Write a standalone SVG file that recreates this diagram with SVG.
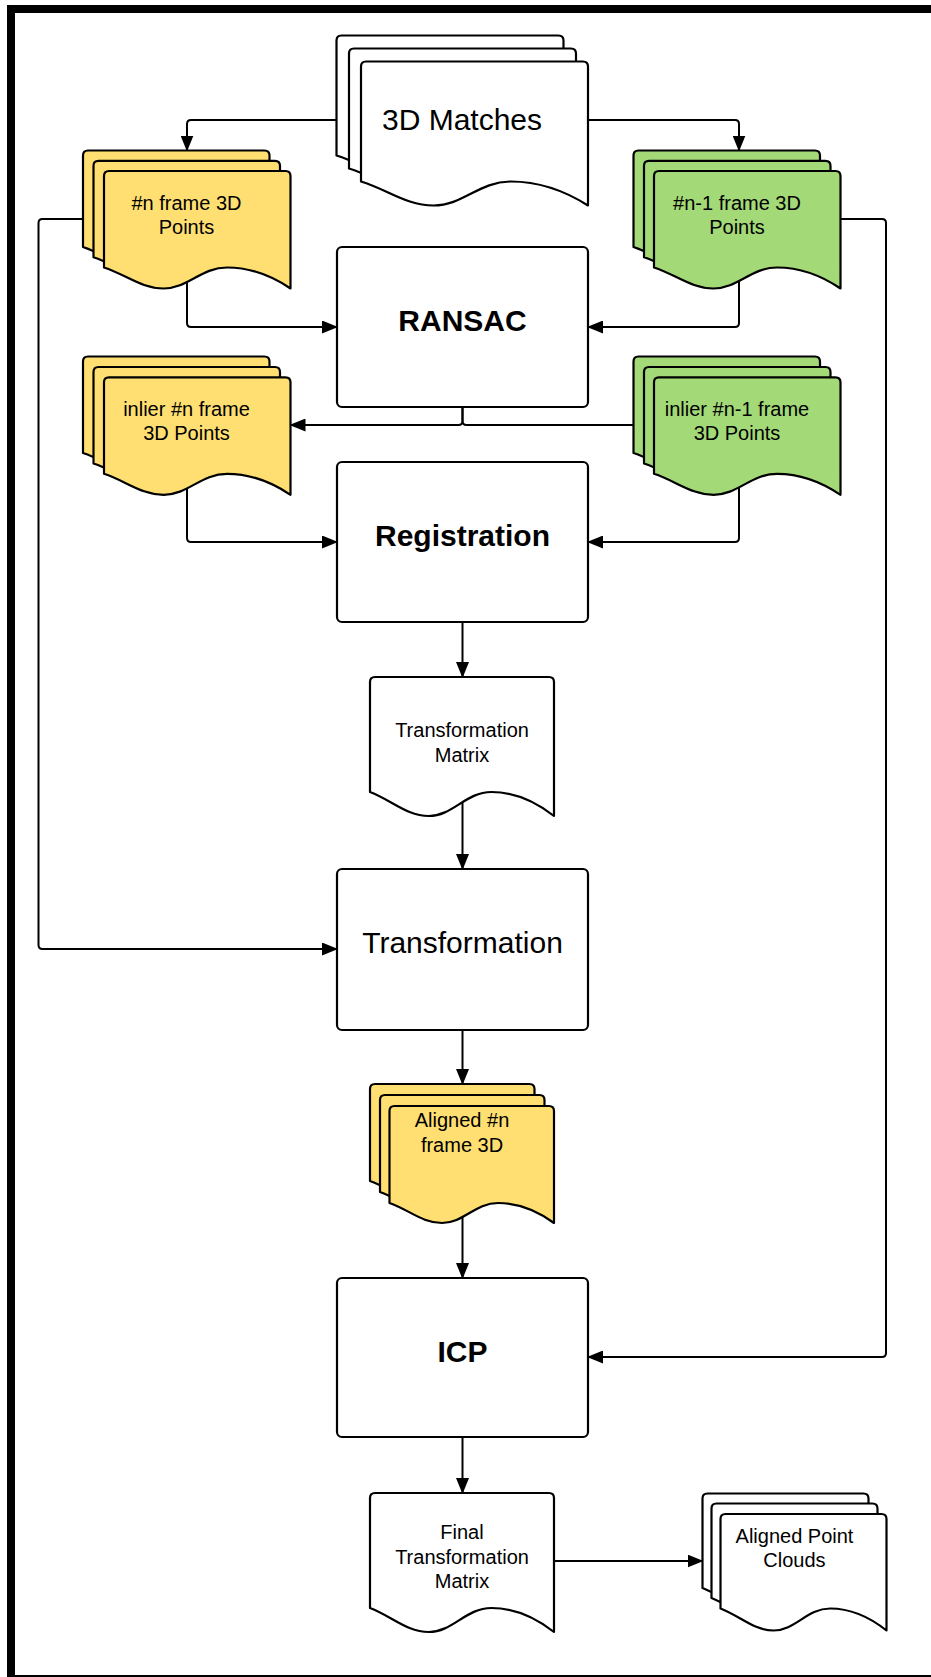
<svg xmlns="http://www.w3.org/2000/svg" xmlns:xlink="http://www.w3.org/1999/xlink" width="931" height="1677" viewBox="0 0 931 1677">
<style>
.sheet{stroke:#000;stroke-width:2.2;stroke-linejoin:round}
.white{fill:#fff}
.yellow{fill:#FFDF71}
.green{fill:#A3D977}
.box{fill:#fff;stroke:#000;stroke-width:2.2}
.conn{fill:none;stroke:#000;stroke-width:2}
.arr{marker-end:url(#ah)}
text{font-family:"Liberation Sans",Arial,sans-serif;fill:#000;text-anchor:middle}
.t20{font-size:20px}
.t30{font-size:30px}
.b30{font-size:30px;font-weight:bold}
</style>
<defs>
<marker id="ah" markerUnits="userSpaceOnUse" markerWidth="16" markerHeight="13" refX="15" refY="6.5" orient="auto">
<path d="M0,0 L16,6.5 L0,13 Z" fill="#000"/>
</marker>
<path id="docA" d="M0,5 Q0,0 5,0 H222 Q227,0 227,5 V144 C204.3,129.6 177.06,120 149.82,120 C118.04,120 102.15,144 72.64,144 C45.4,144 27.24,128.4 0,120 Z"/>
<path id="docB" d="M0,5 Q0,0 5,0 H181.5 Q186.5,0 186.5,5 V117.5 C167.85,104.9 145.47,96.5 123.09,96.5 C96.98,96.5 83.93,117.5 59.68,117.5 C37.3,117.5 22.38,103.85 0,96.5 Z"/>
<path id="docC" d="M0,5 Q0,0 5,0 H159.5 Q164.5,0 164.5,5 V117 C148.05,105 128.31,97 108.57,97 C85.54,97 74.03,117 52.64,117 C32.9,117 19.74,104 0,97 Z"/>
<path id="docD" d="M0,5 Q0,0 5,0 H161 Q166,0 166,5 V116.5 C149.4,103.3 129.48,94.5 109.56,94.5 C86.32,94.5 74.7,116.5 53.12,116.5 C33.2,116.5 19.92,102.2 0,94.5 Z"/>
<path id="docE" d="M0,5 Q0,0 5,0 H179 Q184,0 184,5 V139 C165.6,124.6 143.52,115 121.44,115 C95.68,115 82.8,139 58.88,139 C36.8,139 22.08,123.4 0,115 Z"/>
</defs>
<rect x="0" y="0" width="931" height="1677" fill="#fff"/>
<rect id="frame" x="11" y="9" width="930" height="1670" fill="none" stroke="#000" stroke-width="8"/>

<g id="connectors">
<path class="conn arr" d="M345,120 H191 Q187,120 187,124 V150.5"/>
<path class="conn arr" d="M580,120 H735 Q739,120 739,124 V150.5"/>
<path class="conn arr" d="M187,275 V323 Q187,327 191,327 H337"/>
<path class="conn arr" d="M739,275 V323 Q739,327 735,327 H588"/>
<path class="conn arr" d="M90,219 H42.5 Q38.5,219 38.5,223 V945 Q38.5,949 42.5,949 H337"/>
<path class="conn arr" d="M832,219 H882 Q886,219 886,223 V1353 Q886,1357 882,1357 H588"/>
<path class="conn arr" d="M462.5,400 V421 Q462.5,425 458.5,425 H290.5"/>
<path class="conn arr" d="M462.5,400 V421 Q462.5,425 466.5,425 H654"/>
<path class="conn arr" d="M187,480 V538 Q187,542 191,542 H337"/>
<path class="conn arr" d="M739,480 V538 Q739,542 735,542 H588"/>
<path class="conn arr" d="M462.5,615 V677"/>
<path class="conn arr" d="M462.5,795 V869"/>
<path class="conn arr" d="M462.5,1025 V1084"/>
<path class="conn arr" d="M462.5,1205 V1278"/>
<path class="conn arr" d="M462.5,1430 V1493"/>
<path class="conn arr" d="M548,1561 H702.5"/>
</g>

<g id="matches3d">
<use xlink:href="#docA" href="#docA" class="sheet white" x="336.5" y="35.5"/>
<use xlink:href="#docA" href="#docA" class="sheet white" x="349" y="48.5"/>
<use xlink:href="#docA" href="#docA" class="sheet white" x="361" y="61.5"/>
<text class="t30" x="462" y="129.5">3D Matches</text>
</g>

<g id="nframe">
<use xlink:href="#docB" href="#docB" class="sheet yellow" x="83" y="150.5"/>
<use xlink:href="#docB" href="#docB" class="sheet yellow" x="93.5" y="160.8"/>
<use xlink:href="#docB" href="#docB" class="sheet yellow" x="104" y="171"/>
<text class="t20" x="186.5" y="210">#n frame 3D</text>
<text class="t20" x="186.5" y="234">Points</text>
</g>

<g id="n1frame">
<use xlink:href="#docB" href="#docB" class="sheet green" x="633.5" y="150.5"/>
<use xlink:href="#docB" href="#docB" class="sheet green" x="644" y="160.8"/>
<use xlink:href="#docB" href="#docB" class="sheet green" x="654" y="171"/>
<text class="t20" x="737" y="210">#n-1 frame 3D</text>
<text class="t20" x="737" y="234">Points</text>
</g>

<g id="ransac">
<rect class="box" x="337" y="247" width="251" height="160" rx="5"/>
<text class="b30" x="462.5" y="331">RANSAC</text>
</g>

<g id="inlierN">
<use xlink:href="#docB" href="#docB" class="sheet yellow" x="83" y="356.5"/>
<use xlink:href="#docB" href="#docB" class="sheet yellow" x="93.5" y="367"/>
<use xlink:href="#docB" href="#docB" class="sheet yellow" x="104" y="377.3"/>
<text class="t20" x="186.5" y="415.5">inlier #n frame</text>
<text class="t20" x="186.5" y="440">3D Points</text>
</g>

<g id="inlierN1">
<use xlink:href="#docB" href="#docB" class="sheet green" x="633.5" y="356.5"/>
<use xlink:href="#docB" href="#docB" class="sheet green" x="644" y="367"/>
<use xlink:href="#docB" href="#docB" class="sheet green" x="654" y="377.3"/>
<text class="t20" x="737" y="415.5">inlier #n-1 frame</text>
<text class="t20" x="737" y="440">3D Points</text>
</g>

<g id="registration">
<rect class="box" x="337" y="462" width="251" height="160" rx="5"/>
<text class="b30" x="462.5" y="546">Registration</text>
</g>

<g id="tmatrix">
<use xlink:href="#docE" href="#docE" class="sheet white" x="370" y="677"/>
<text class="t20" x="462" y="736.5">Transformation</text>
<text class="t20" x="462" y="761.5">Matrix</text>
</g>

<g id="transformation">
<rect class="box" x="337" y="869" width="251" height="161" rx="5"/>
<text class="t30" x="462.5" y="953">Transformation</text>
</g>

<g id="alignedN">
<use xlink:href="#docC" href="#docC" class="sheet yellow" x="370" y="1084"/>
<use xlink:href="#docC" href="#docC" class="sheet yellow" x="380" y="1095"/>
<use xlink:href="#docC" href="#docC" class="sheet yellow" x="389.5" y="1106"/>
<text class="t20" x="462" y="1127">Aligned #n</text>
<text class="t20" x="462" y="1151.5">frame 3D</text>
</g>

<g id="icp">
<rect class="box" x="337" y="1278" width="251" height="159" rx="5"/>
<text class="b30" x="462.5" y="1361.5">ICP</text>
</g>

<g id="finalMatrix">
<use xlink:href="#docE" href="#docE" class="sheet white" x="370" y="1493"/>
<text class="t20" x="462" y="1539">Final</text>
<text class="t20" x="462" y="1564">Transformation</text>
<text class="t20" x="462" y="1588">Matrix</text>
</g>

<g id="alignedClouds">
<use xlink:href="#docD" href="#docD" class="sheet white" x="702.5" y="1493.5"/>
<use xlink:href="#docD" href="#docD" class="sheet white" x="711.5" y="1503.5"/>
<use xlink:href="#docD" href="#docD" class="sheet white" x="720.5" y="1514"/>
<text class="t20" x="794.5" y="1543">Aligned Point</text>
<text class="t20" x="794.5" y="1567">Clouds</text>
</g>
</svg>
